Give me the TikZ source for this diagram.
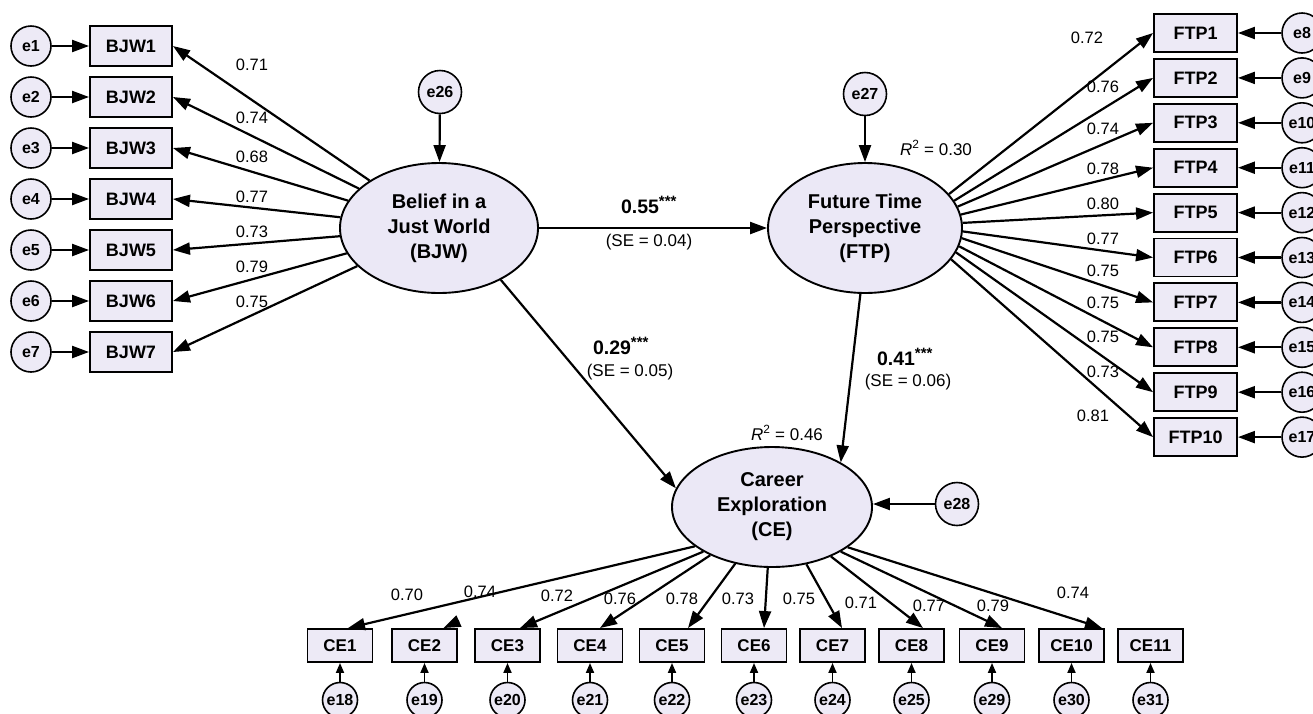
\documentclass[tikz,border=0pt]{standalone}
\usepackage{fontspec}
\setmainfont{Liberation Sans}
\usetikzlibrary{arrows.meta,shapes.geometric,calc}
\definecolor{latfill}{HTML}{EBE8F6}
\definecolor{boxfill}{HTML}{EDEAF6}
\begin{document}
\begin{tikzpicture}[x=1pt,y=-1pt,
  lat/.style={ellipse,draw,line width=1.9pt,fill=latfill,inner sep=0pt,minimum width=198pt,minimum height=130pt,align=center,font=\bfseries\fontsize{20}{25}\selectfont},
  obs/.style={rectangle,draw,line width=1.9pt,fill=boxfill,inner sep=0pt,minimum width=82pt,minimum height=40pt,font=\bfseries\fontsize{18}{20}\selectfont},
  ftpbox/.style={obs,minimum width=83pt,minimum height=38pt},
  cebox/.style={obs,minimum width=65pt,minimum height=33pt,font=\bfseries\fontsize{17}{20}\selectfont},
  err/.style={circle,draw,line width=1.6pt,fill=boxfill,inner sep=0pt,minimum size=40pt,font=\bfseries\fontsize{16}{18}\selectfont},
  errs/.style={err,minimum size=35pt},
  arr/.style={line width=2.2pt,-{Triangle[length=17pt,width=12pt]}},
  sarr/.style={line width=1.8pt,-{Triangle[length=10pt,width=8pt]}},
  lbl/.style={inner sep=0pt,font=\fontsize{16.5}{18}\selectfont},
  selbl/.style={inner sep=0pt,font=\fontsize{17}{19}\selectfont},
  coef/.style={inner sep=0pt,font=\bfseries\fontsize{19.5}{21}\selectfont},
]
\useasboundingbox (0,0) rectangle (1313,713);

% latent variables
\node[lat] (bjw) at (439,228) {Belief in a\\Just World\\(BJW)};
\node[lat,minimum width=194pt] (ftp) at (865,228) {Future Time\\Perspective\\(FTP)};
\node[lat,minimum width=200pt,minimum height=120pt] (ce) at (772,507) {Career\\Exploration\\(CE)};

\node[err,minimum size=43pt] (e26) at (440,92) {e26};
\node[err,minimum size=43pt] (e27) at (865,94) {e27};
\node[err,minimum size=43pt] (e28) at (957,504) {e28};
\draw[arr] (e26) -- (bjw);
\draw[arr] (e27) -- (ftp);
\draw[arr] (e28) -- (ce.east |- e28);

% BJW indicators
\foreach \i in {1,...,7} {
  \pgfmathsetmacro{\yy}{46+51*(\i-1)}
  \node[obs] (bjw\i) at (131,\yy) {BJW\i};
  \node[err] (e\i) at (31,\yy) {e\i};
  \draw[arr] (e\i) -- (bjw\i);
  \draw[arr] (bjw) -- (bjw\i.east);
}
\foreach \i/\l/\ly in {1/0.71/65,2/0.74/118,3/0.68/157,4/0.77/197,5/0.73/232,6/0.79/267,7/0.75/302} {
  \node[lbl] (lb\i) at (252,\ly) {\l};
}

% FTP indicators
\foreach \i/\a/\j in {1/22/8,2/17.5/9,3/13/10,4/8/11,5/3/12,6/-2/13,7/-6.5/14,8/-11/15,9/-15.5/16,10/-20/17} {
  \pgfmathsetmacro{\yy}{33+44.9*(\i-1)}
  \node[ftpbox] (ftp\i) at (1195.5,\yy) {FTP\i};
  \node[err] (e\j) at (1302,\yy) {e\j};
  \draw[arr] (e\j) -- (ftp\i);
  \draw[arr] (ftp.\a) -- (ftp\i.west);
}
\foreach \i/\l/\lx/\ly in {1/0.72/1087/38,2/0.76/1103/87,3/0.74/1103/129,4/0.78/1103/169,5/0.80/1103/204,6/0.77/1103/239,7/0.75/1103/271,8/0.75/1103/303,9/0.75/1103/337,10/0.73/1103/372,11/0.81/1093/416} {
  \node[lbl] (lf\i) at (\lx,\ly) {\l};
}

% CE indicators
\foreach \i/\x/\e in {1/340/18,2/424.5/19,3/507.5/20,4/590/21,5/672/22,6/754/23,7/832.5/24,8/911.5/25,9/992/29,10/1071.5/30,11/1150.5/31} {
  \node[cebox] (ce\i) at (\x,645.5) {CE\i};
  \node[errs] (e\e) at (\x,700) {e\e};
  \draw[sarr] (e\e) -- (ce\i);
}
\foreach \i/\a/\dx in {1/207/8,3/213/12.5,4/218/10,5/237/16,6/266/10,7/301/9.5,8/320/11.5,9/327/10,10/332/30.5} {
  \draw[arr] (ce.\a) -- ([xshift=\dx pt]ce\i.north);
}
\coordinate (ce2from) at (459,621);
\draw[arr] (ce2from) -- ([xshift=19pt]ce2.north);
\foreach \i/\l/\lx/\ly in {1/0.70/407/595,2/0.74/480/592,3/0.72/557/596,4/0.76/620/599,5/0.78/682/599,6/0.73/738/599,7/0.75/799/599,8/0.71/861/603,9/0.77/929/606,10/0.79/993/606,11/0.74/1073/593} {
  \node[lbl] (lc\i) at (\lx,\ly) {\l};
}

% structural paths
\draw[arr] (bjw.east) -- (ftp.west);
\draw[arr] (bjw.-40) -- (ce.169);
\draw[arr] (ftp.266) -- (ce.33);

\node[coef] (c1) at (649,205) {0.55\textsuperscript{\fontsize{15}{15}\selectfont ***}};
\node[selbl] (s1) at (649,242) {(SE = 0.04)};
\node[coef] (c2) at (621,346) {0.29\textsuperscript{\fontsize{15}{15}\selectfont ***}};
\node[selbl] (s2) at (630,372) {(SE = 0.05)};
\node[coef] (c3) at (905,357) {0.41\textsuperscript{\fontsize{15}{15}\selectfont ***}};
\node[selbl] (s3) at (908,382) {(SE = 0.06)};
\node[selbl] (r1) at (936,148) {\textit{R}\textsuperscript{2} = 0.30};
\node[selbl] (r2) at (787,433) {\textit{R}\textsuperscript{2} = 0.46};
\end{tikzpicture}
\end{document}
